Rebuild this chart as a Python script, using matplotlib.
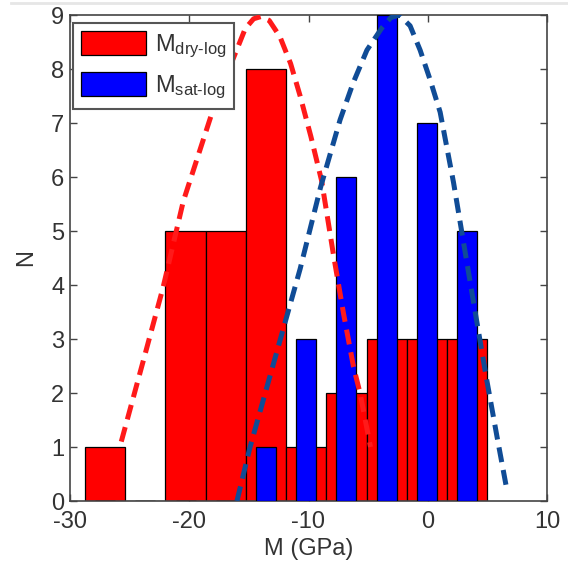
import matplotlib
matplotlib.use('Agg')
import matplotlib.pyplot as plt
from matplotlib.lines import Line2D
import numpy as np

plt.rcParams['font.family'] = ['Liberation Sans', 'DejaVu Sans']
plt.rcParams['mathtext.fontset'] = 'custom'
plt.rcParams['mathtext.rm'] = 'Liberation Sans'
plt.rcParams['mathtext.it'] = 'Liberation Sans'
plt.rcParams['axes.unicode_minus'] = False

# histogram bin centres (GPa) shared by both series
bin_centers = [-27.05, -23.68, -20.31, -16.94, -13.57, -10.20, -6.82, -3.45, -0.08, 3.29]
n_dry = [1, 0, 5, 5, 8, 1, 2, 3, 3, 3]
n_sat = [0, 0, 0, 0, 1, 3, 6, 9, 7, 5]

# fitted distribution curves
dry_fit_x = [-25.7, -23.85, -22.2, -20.5, -18.0, -16.3, -15.3, -14.6, -14.0, -13.3,
             -12.4, -11.5, -10.7, -9.8, -8.9, -7.9, -7.07, -6.23, -5.67, -4.8]
dry_fit_y = [1.1, 2.6, 3.95, 5.55, 7.25, 8.2, 8.75, 8.93, 8.97, 8.9,
             8.6, 8.1, 7.5, 6.75, 5.93, 4.55, 3.48, 2.49, 1.99, 1.0]
sat_fit_x = [-16.0, -14.9, -13.5, -12.1, -10.7, -9.0, -7.35, -6.26, -5.1, -3.85,
             -3.1, -2.4, -1.48, -0.64, 0.2, 1.04, 2.16, 2.87, 3.9, 4.9, 5.8, 6.6]
sat_fit_y = [0.0, 1.0, 2.1, 3.2, 4.3, 5.8, 7.06, 7.74, 8.35, 8.76,
             8.95, 9.0, 8.8, 8.35, 7.8, 7.2, 5.9, 4.96, 3.6, 2.3, 1.2, 0.25]

labels = [r'M$_{\mathrm{dry}\text{-}\mathrm{log}}$', r'M$_{\mathrm{sat}\text{-}\mathrm{log}}$']

txt = '#333333'
fs = 17

fig = plt.figure(figsize=(5.68, 5.65), dpi=100)
ax = fig.add_axes([70 / 568, 1 - 501 / 565, 477 / 568, 486 / 565])

width = np.diff(bin_centers).mean()
b1 = ax.bar(bin_centers, n_dry, width=width, color='#ff0000', edgecolor='black',
            linewidth=0.9, zorder=2)
b2 = ax.bar(bin_centers, n_sat, width=width / 2, color='#0000ff', edgecolor='black',
            linewidth=0.9, zorder=3)

ax.plot(dry_fit_x, dry_fit_y, color='#ff1a1a', lw=3.6, ls=(0, (3, 1.6)),
        dash_capstyle='butt', zorder=4)
ax.plot(sat_fit_x, sat_fit_y, color='#104c96', lw=3.6, ls=(0, (3, 1.6)),
        dash_capstyle='butt', zorder=5)

ax.set_xlim(-30, 10)
ax.set_ylim(0, 9)
ax.set_xticks([-30, -20, -10, 0, 10])
ax.set_yticks(range(10))
ax.tick_params(direction='in', top=True, right=True, length=5, width=1,
               color='#444444', labelsize=fs, labelcolor=txt)
ax.tick_params(axis='x', pad=7)
ax.tick_params(axis='y', pad=4)
for lbl in ax.get_yticklabels():
    lbl.set_verticalalignment('center_baseline')
for s in ax.spines.values():
    s.set_color('#444444')
    s.set_linewidth(1.2)

ax.set_xlabel('M (GPa)', fontsize=fs, color=txt, labelpad=4)
ax.set_ylabel('N', fontsize=fs, color=txt, labelpad=10)

lfs = 17
leg = ax.legend([b1, b2], labels, loc='upper left', bbox_to_anchor=(3 / 477, 1 - 8 / 486),
                borderaxespad=0, handlelength=65 / 23.6, handleheight=28 / 23.6,
                labelspacing=12 / 23.6, handletextpad=9 / 23.6, borderpad=8 / 23.6,
                fancybox=False, framealpha=1, edgecolor='#555555', fontsize=lfs)
leg.get_frame().set_linewidth(1.5)
for t in leg.get_texts():
    t.set_color(txt)

# faint border line at the top of the original screenshot
fig.add_artist(Line2D([0.02, 1], [1 - 3 / 565, 1 - 3 / 565], color='#e6e6e6', lw=2,
                      transform=fig.transFigure))

fig.savefig('out.png', dpi=100)
